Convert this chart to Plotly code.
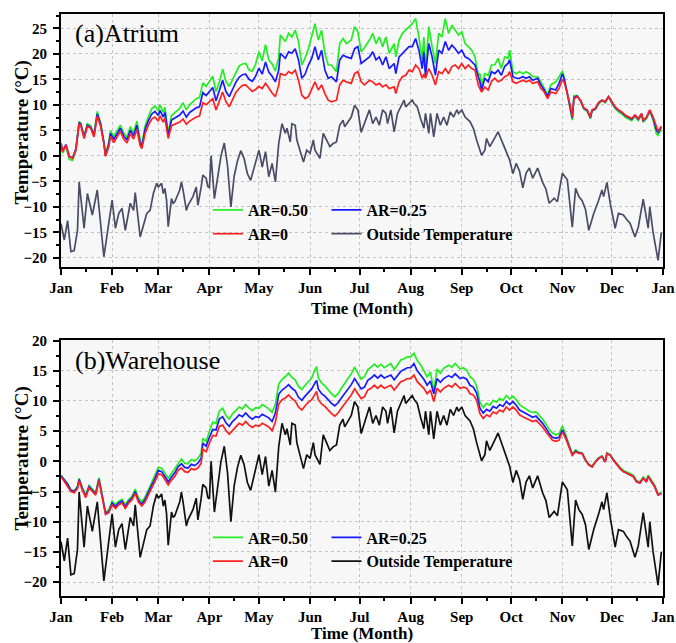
import pandas as pd
import plotly.graph_objects as go

# ---------------------------------------------------------------------------
# Data: day of year (0 = 1 Jan) and daily temperature in °C
# ---------------------------------------------------------------------------
MONTH_LABELS = ["Jan", "Feb", "Mar", "Apr", "May", "Jun", "Jul",
                "Aug", "Sep", "Oct", "Nov", "Dec", "Jan"]

# Outside air temperature (same weather file for both buildings)
OUT_DAY = [0, 2, 4, 6, 8, 10, 11, 14, 16, 19, 22, 24, 26, 31, 33, 35, 37, 39,
           42, 44, 45, 48, 49, 52, 54, 56, 58, 59, 61, 62, 63, 64, 65, 67, 68,
           69, 72, 73, 74, 76, 77, 79, 80, 82, 83, 85, 86, 88, 89, 90, 91, 93,
           95, 97, 99, 101, 103, 105, 107, 109, 111, 113, 115, 117, 120, 122,
           124, 126, 128, 130, 132, 134, 136, 137, 139, 140, 142, 143, 145,
           147, 149, 151, 153, 154, 157, 159, 161, 163, 165, 167, 169, 171,
           172, 174, 176, 178, 180, 182, 185, 187, 189, 191, 193, 195, 197,
           198, 200, 202, 204, 206, 208, 209, 211, 213, 214, 216, 218, 220,
           221, 223, 224, 226, 228, 230, 232, 234, 236, 238, 240, 241, 243,
           245, 248, 250, 252, 254, 255, 257, 258, 260, 262, 264, 265, 267,
           269, 272, 274, 276, 278, 280, 282, 284, 286, 289, 292, 294, 296,
           299, 301, 304, 307, 310, 312, 314, 316, 318, 320, 323, 326, 328,
           329, 331, 333, 336, 338, 341, 343, 345, 348, 350, 353, 356, 357,
           359, 362, 364]
OUT_T = [-13.3, -16.5, -12.7, -18.8, -18.6, -14.6, -5.1, -14.2, -7.4, -11.6,
         -6.7, -13.6, -19.8, -8.7, -14.2, -11.3, -10.3, -14.6, -9.3, -10.7,
         -7.2, -15.9, -14.6, -11.3, -10.7, -7.4, -5.4, -6.1, -5.4, -7.4, -6.4,
         -8.7, -13.9, -8.4, -9.3, -9.0, -6.7, -5.1, -6.7, -10.7, -9.7, -8.7,
         -8.0, -6.1, -9.7, -6.1, -3.8, -4.4, -6.0, -6.2, 0.0, -8.4, -4.0, 0.0,
         2.5, -2.0, -10.0, -4.0, -1.0, 1.0, -0.5, -3.5, -4.8, -2.2, 1.1, -2.2,
         0.8, -4.1, -1.5, -5.1, 2.4, 6.3, 4.4, 5.4, 2.7, 6.3, 6.0, 3.1, 1.1,
         -1.2, 1.1, 0.5, 3.1, 1.1, -0.5, 4.4, 3.1, 1.8, 2.4, 2.7, 6.0, 7.0,
         5.7, 6.7, 7.6, 9.9, 9.0, 4.6, 7.3, 9.0, 6.3, 7.6, 6.0, 9.0, 8.3,
         6.3, 9.0, 4.7, 8.3, 9.6, 10.9, 9.6, 10.3, 10.9, 10.3, 9.6, 7.3, 5.4,
         8.3, 4.4, 8.3, 3.7, 8.3, 6.0, 7.6, 6.0, 8.6, 7.6, 9.0, 8.3, 9.0,
         7.6, 6.7, 5.4, 3.1, 0.8, 0.1, 1.1, 3.4, 1.8, 3.1, 4.1, 4.7, 3.1,
         1.8, -0.8, -3.5, -1.5, -3.0, -6.3, -3.4, -2.4, -4.4, -2.4, -5.2,
         -6.5, -9.3, -8.3, -9.0, -3.4, -4.7, -14.0, -6.4, -8.0, -8.8, -10.5,
         -14.6, -11.3, -8.7, -6.7, -8.0, -5.2, -9.3, -14.2, -11.3, -11.6,
         -12.5, -13.2, -15.9, -14.0, -8.5, -14.2, -10.0, -15.0, -20.5, -15.0]

# (a) Atrium: indoor temperature for three aspect ratios
ATR_DAY = [0, 1, 3, 5, 7, 9, 11, 12, 14, 16, 18, 20, 22, 24, 26, 27, 29, 30,
           32, 34, 36, 38, 40, 42, 44, 46, 48, 49, 51, 53, 55, 57, 59, 60, 62,
           63, 65, 67, 69, 72, 74, 76, 78, 80, 82, 84, 86, 88, 90, 92, 94, 96,
           98, 100, 102, 104, 106, 108, 110, 112, 114, 116, 118, 120, 122,
           124, 126, 128, 130, 132, 133, 136, 138, 140, 142, 144, 146, 148,
           150, 152, 154, 156, 158, 160, 162, 164, 167, 169, 171, 173, 176,
           178, 180, 182, 184, 187, 189, 191, 193, 195, 197, 199, 202, 203,
           205, 207, 209, 211, 213, 215, 217, 219, 220, 221, 223, 225, 227,
           229, 231, 233, 235, 237, 239, 241, 243, 245, 247, 249, 251, 253,
           254, 255, 257, 259, 261, 263, 265, 267, 269, 271, 272, 274, 276,
           278, 280, 282, 284, 286, 289, 291, 293, 295, 297, 300, 302, 304,
           305, 307, 309, 310, 311, 313, 315, 317, 319, 321, 322, 324, 326,
           328, 330, 332, 334, 336, 338, 340, 342, 344, 346, 348, 350, 352,
           353, 355, 357, 359, 361, 362, 364]
ATR_AR0 = [2.4, 0.8, 2.1, -0.2, -0.5, 1.1, 6.3, 6.0, 3.4, 5.8, 5.4, 3.7, 7.8,
           5.8, 2.4, -0.1, 1.8, 3.8, 2.6, 3.6, 4.8, 3.3, 2.5, 4.3, 3.3, 5.2,
           2.0, 1.4, 4.4, 6.0, 7.2, 7.6, 6.8, 7.8, 6.6, 7.4, 3.4, 5.9, 6.2,
           6.6, 7.2, 6.2, 6.8, 7.2, 7.6, 7.8, 10.4, 10.0, 10.6, 11.2, 9.0,
           10.8, 12.5, 10.6, 9.6, 11.0, 12.4, 13.2, 13.8, 13.9, 13.2, 12.6,
           13.0, 13.6, 13.2, 14.2, 13.3, 12.3, 11.6, 13.8, 16.1, 15.8, 16.5,
           16.1, 16.8, 14.8, 11.9, 11.2, 11.6, 12.9, 14.5, 12.9, 13.9, 12.2,
           10.9, 10.6, 10.9, 13.9, 14.8, 14.5, 14.2, 16.1, 16.5, 14.5, 13.9,
           14.8, 14.5, 13.9, 14.2, 13.5, 13.9, 13.2, 13.5, 12.2, 14.5, 15.5,
           15.8, 16.8, 16.5, 17.8, 17.1, 15.2, 16.0, 15.2, 17.1, 15.8, 13.9,
           16.5, 16.1, 17.1, 16.1, 17.5, 17.8, 17.1, 18.1, 17.1, 17.8, 17.1,
           16.8, 13.9, 13.0, 12.5, 13.5, 12.9, 14.6, 15.2, 14.5, 14.8, 15.5,
           15.8, 16.5, 14.5, 14.2, 14.5, 14.8, 14.5, 14.8, 14.2, 14.5, 13.2,
           12.5, 11.2, 12.5, 12.2, 13.2, 15.0, 14.5, 12.2, 9.6, 7.6, 11.2,
           11.6, 10.9, 9.4, 9.0, 7.6, 9.0, 9.3, 10.5, 10.9, 10.6, 11.6, 10.6,
           9.6, 9.0, 8.6, 8.0, 7.6, 7.3, 8.0, 7.3, 8.3, 7.0, 7.6, 9.0, 7.6,
           5.4, 4.8, 5.8]
ATR_AR025 = [2.4, 1.0, 2.2, -0.1, -0.4, 1.3, 6.5, 6.2, 3.7, 6.0, 5.6, 4.0,
             8.2, 6.2, 2.6, 0.0, 2.3, 4.4, 3.2, 4.2, 5.4, 3.9, 3.1, 5.0, 3.9,
             6.0, 2.5, 1.8, 5.2, 6.9, 8.2, 8.7, 7.9, 8.9, 7.6, 8.5, 4.0, 7.0,
             7.4, 8.0, 8.8, 7.6, 8.5, 9.0, 9.4, 9.6, 12.4, 11.8, 12.6, 13.4,
             10.8, 12.6, 14.8, 12.6, 11.6, 13.0, 14.4, 15.4, 15.9, 16.0, 15.0,
             14.6, 15.6, 17.2, 16.0, 18.4, 16.4, 15.6, 14.5, 16.8, 20.1, 19.1,
             20.4, 20.1, 21.0, 18.8, 15.2, 16.0, 17.8, 19.1, 21.4, 18.8, 20.7,
             16.8, 15.2, 15.5, 14.5, 18.8, 19.7, 19.4, 19.1, 21.0, 21.4, 18.1,
             18.6, 19.4, 20.4, 18.8, 19.4, 17.8, 19.4, 17.1, 18.1, 16.1, 19.4,
             20.1, 20.7, 21.4, 21.4, 23.0, 20.7, 17.1, 20.4, 15.6, 22.0, 19.4,
             15.8, 20.7, 20.1, 22.4, 20.7, 21.7, 21.0, 20.1, 20.7, 19.4, 19.1,
             18.4, 17.8, 15.5, 14.5, 12.9, 15.2, 14.5, 16.5, 16.1, 16.8, 15.8,
             17.5, 18.1, 18.8, 15.5, 15.2, 15.2, 15.5, 15.2, 15.5, 14.8, 15.2,
             13.9, 12.9, 11.6, 13.2, 12.9, 14.2, 16.1, 15.2, 12.2, 9.4, 7.4,
             11.4, 11.7, 10.8, 9.3, 8.9, 7.5, 8.9, 9.2, 10.4, 10.9, 10.6,
             11.6, 10.5, 9.5, 8.9, 8.5, 7.9, 7.5, 7.2, 7.9, 7.2, 8.2, 6.9,
             7.5, 8.9, 7.4, 5.1, 4.6, 5.6]
ATR_AR050 = [2.2, 0.5, 1.9, -0.7, -0.9, 1.0, 6.7, 6.4, 3.9, 6.3, 5.9, 4.3,
             8.7, 6.5, 2.8, 0.1, 2.8, 4.9, 3.8, 4.9, 6.0, 4.5, 3.6, 5.7, 4.5,
             6.8, 3.0, 2.2, 5.9, 7.7, 9.2, 9.8, 8.8, 10.0, 8.5, 9.5, 4.5, 7.9,
             8.5, 9.3, 10.4, 9.0, 10.0, 10.6, 11.2, 11.4, 14.3, 13.6, 14.6,
             15.6, 12.6, 14.4, 17.0, 14.6, 13.6, 15.0, 16.4, 17.6, 18.0, 18.1,
             16.8, 16.6, 18.0, 20.4, 18.6, 21.8, 18.8, 18.0, 16.6, 19.4, 23.7,
             22.4, 24.0, 23.3, 24.6, 22.4, 17.8, 19.2, 21.0, 23.3, 25.9, 22.7,
             24.6, 20.1, 17.8, 17.8, 16.5, 22.0, 23.0, 22.0, 22.7, 25.3, 24.3,
             20.4, 21.2, 22.7, 24.0, 22.0, 23.3, 21.4, 23.3, 20.1, 22.0, 19.4,
             22.7, 24.0, 24.6, 25.3, 25.9, 26.9, 23.3, 18.8, 23.3, 16.5, 25.3,
             21.4, 18.1, 24.0, 23.3, 26.9, 24.0, 25.6, 24.6, 23.7, 24.3, 22.0,
             21.4, 20.7, 19.4, 15.8, 16.1, 13.9, 16.1, 15.8, 17.8, 17.8, 19.1,
             17.1, 19.4, 19.1, 20.7, 16.5, 16.1, 16.5, 16.1, 16.5, 16.1, 15.5,
             15.5, 14.5, 13.2, 11.9, 13.9, 14.5, 15.5, 16.6, 15.5, 12.2, 9.0,
             7.0, 11.8, 11.8, 10.7, 9.2, 8.7, 7.3, 8.8, 9.1, 10.2, 10.8, 10.4,
             11.6, 10.3, 9.3, 8.6, 8.2, 7.6, 7.2, 6.9, 7.7, 6.9, 8.0, 6.6, 7.3,
             8.7, 7.0, 4.3, 4.0, 5.2]

# (b) Warehouse: indoor temperature for three aspect ratios
WH_DAY = [0, 2, 4, 6, 8, 10, 11, 13, 15, 17, 19, 21, 23, 25, 27, 29, 31, 33,
          35, 37, 39, 41, 43, 45, 47, 49, 51, 53, 55, 57, 59, 61, 63, 65, 67,
          69, 71, 73, 75, 77, 79, 81, 83, 85, 86, 88, 90, 92, 94, 96, 98, 100,
          102, 104, 106, 108, 110, 112, 114, 116, 118, 120, 122, 124, 126,
          128, 130, 132, 134, 136, 138, 140, 142, 144, 146, 148, 150, 152,
          154, 155, 156, 158, 160, 162, 164, 166, 168, 170, 172, 174, 176,
          178, 180, 182, 184, 186, 188, 190, 192, 194, 196, 198, 200, 202,
          204, 206, 208, 210, 212, 214, 216, 218, 220, 222, 224, 226, 228,
          230, 232, 235, 237, 239, 242, 244, 246, 248, 250, 252, 254, 256,
          258, 260, 262, 264, 266, 268, 270, 272, 274, 276, 278, 280, 282,
          284, 286, 288, 290, 292, 294, 296, 298, 300, 302, 304, 306, 308,
          310, 312, 314, 316, 318, 320, 322, 324, 326, 328, 330, 331, 333,
          335, 337, 339, 341, 343, 345, 347, 349, 351, 353, 355, 356, 358,
          360, 362, 364]
WH_AR0 = [-2.5, -3.3, -4.0, -5.0, -5.2, -4.5, -3.2, -4.8, -6.0, -4.4, -5.0,
          -5.6, -3.2, -6.0, -8.8, -8.5, -7.2, -7.8, -7.2, -6.9, -7.8, -6.9,
          -6.4, -5.3, -6.8, -7.4, -6.7, -5.5, -4.5, -3.3, -2.1, -2.2, -3.0,
          -3.9, -3.1, -2.5, -1.5, -1.1, -1.7, -1.8, -1.2, -1.4, -1.1, -0.3,
          2.0, 1.6, 3.0, 4.3, 4.2, 5.8, 6.0, 5.1, 4.5, 5.2, 5.7, 6.3, 6.0,
          6.6, 6.0, 5.6, 6.0, 5.8, 6.3, 6.0, 5.7, 5.1, 6.5, 9.5, 10.2, 10.5,
          11.0, 10.4, 10.0, 9.0, 8.5, 9.2, 9.8, 10.2, 11.2, 11.6, 10.2, 9.5,
          9.1, 8.5, 7.9, 7.5, 8.0, 8.8, 9.5, 10.2, 11.0, 12.0, 11.2, 10.4,
          10.7, 11.8, 12.1, 12.6, 12.1, 12.6, 12.1, 12.3, 12.6, 11.8, 12.6,
          13.2, 13.4, 13.7, 13.7, 14.3, 13.2, 12.6, 12.1, 11.2, 11.8, 9.9,
          12.1, 11.5, 12.1, 12.6, 12.3, 12.9, 12.1, 12.3, 12.1, 11.2, 11.0,
          10.1, 7.9, 7.1, 7.7, 7.4, 8.2, 7.9, 8.5, 8.2, 9.0, 8.5, 9.0, 8.5,
          7.7, 7.4, 7.1, 6.8, 6.6, 6.8, 6.3, 5.7, 4.9, 4.1, 3.5, 3.3, 3.5,
          4.9, 3.8, 2.4, 1.0, 1.6, 1.3, 1.3, 0.2, -0.6, -0.9, -0.1, 0.5, 0.8,
          -0.1, 1.3, 1.0, 0.2, -0.6, -1.2, -1.7, -2.0, -2.3, -2.5, -3.4,
          -3.6, -2.8, -3.4, -2.5, -3.4, -4.2, -5.6, -5.3]
WH_AR025 = [-2.4, -3.1, -3.8, -4.8, -5.0, -4.3, -3.0, -4.6, -5.8, -4.2, -4.8,
            -5.4, -3.0, -5.8, -8.6, -8.3, -6.9, -7.5, -6.9, -6.6, -7.5, -6.6,
            -6.1, -5.0, -6.5, -7.1, -6.3, -5.1, -4.0, -2.8, -1.5, -1.7, -2.5,
            -3.4, -2.6, -1.9, -0.9, -0.4, -1.0, -1.1, -0.5, -0.7, -0.3, 0.5,
            3.0, 2.5, 4.0, 5.3, 5.2, 7.0, 7.4, 6.4, 5.8, 6.6, 7.1, 7.7, 7.4,
            8.0, 7.4, 7.0, 7.4, 7.3, 7.8, 7.5, 7.2, 6.6, 8.0, 11.1, 11.8,
            12.2, 12.7, 12.1, 11.7, 10.6, 10.1, 10.8, 11.5, 12.0, 13.0, 13.4,
            12.0, 11.2, 10.8, 10.2, 9.6, 9.2, 9.7, 10.5, 11.2, 11.9, 12.7,
            13.7, 12.9, 12.0, 12.3, 13.4, 13.8, 14.3, 13.8, 14.3, 13.8, 14.0,
            14.3, 13.5, 14.3, 14.9, 15.2, 15.5, 15.5, 16.2, 15.0, 14.3, 13.6,
            12.6, 13.3, 11.2, 13.7, 13.1, 13.7, 14.2, 13.9, 14.5, 13.7, 13.9,
            13.6, 12.6, 12.3, 11.3, 8.8, 8.0, 8.6, 8.3, 9.1, 8.8, 9.4, 9.1,
            9.9, 9.4, 9.9, 9.3, 8.5, 8.2, 7.9, 7.5, 7.3, 7.5, 6.9, 6.3, 5.5,
            4.6, 4.0, 3.8, 4.0, 5.2, 4.0, 2.5, 1.1, 1.7, 1.4, 1.3, 0.2, -0.6,
            -0.9, -0.1, 0.5, 0.8, -0.1, 1.3, 1.0, 0.2, -0.6, -1.2, -1.7, -2.0,
            -2.3, -2.5, -3.4, -3.6, -2.8, -3.4, -2.5, -3.4, -4.2, -5.6, -5.3]
WH_AR050 = [-2.3, -3.0, -3.7, -4.7, -4.9, -4.1, -2.8, -4.4, -5.6, -4.0, -4.6,
            -5.2, -2.7, -5.5, -8.4, -8.0, -6.6, -7.2, -6.6, -6.3, -7.2, -6.3,
            -5.8, -4.6, -6.1, -6.7, -5.9, -4.7, -3.5, -2.2, -1.0, -1.1, -1.9,
            -2.8, -2.0, -1.2, -0.2, 0.4, -0.3, -0.4, 0.3, 0.1, 0.5, 1.4, 3.8,
            3.3, 5.0, 6.5, 6.3, 8.3, 8.8, 7.6, 7.0, 7.9, 8.4, 9.0, 8.7, 9.4,
            8.8, 8.4, 8.9, 8.8, 9.4, 9.0, 8.7, 8.1, 9.5, 12.8, 13.6, 14.0,
            14.6, 13.9, 13.5, 12.4, 11.9, 12.6, 13.3, 13.8, 15.2, 15.7, 13.8,
            13.0, 12.5, 11.8, 11.2, 10.7, 11.2, 12.1, 12.9, 13.6, 14.5, 15.6,
            14.7, 13.6, 14.0, 15.2, 15.6, 16.1, 15.6, 16.1, 15.5, 15.8, 16.2,
            15.2, 16.1, 16.8, 17.0, 17.3, 17.3, 17.9, 16.7, 16.0, 15.0, 14.0,
            14.8, 11.6, 15.3, 14.6, 15.4, 15.9, 15.6, 16.2, 15.3, 15.5, 15.1,
            14.0, 13.6, 12.5, 9.8, 8.9, 9.6, 9.3, 10.1, 9.8, 10.4, 10.1, 10.9,
            10.3, 10.8, 10.2, 9.4, 9.0, 8.7, 8.3, 8.1, 8.2, 7.6, 7.0, 6.2,
            5.3, 4.7, 4.4, 4.6, 5.9, 4.4, 2.7, 1.2, 1.9, 1.5, 1.4, 0.3, -0.5,
            -0.8, 0.0, 0.6, 0.9, 0.0, 1.4, 1.1, 0.3, -0.4, -1.0, -1.5, -1.8,
            -2.1, -2.3, -3.2, -3.4, -2.6, -3.2, -2.3, -3.2, -4.0, -5.4, -5.1]

# ---------------------------------------------------------------------------
START = pd.Timestamp("2013-01-01")


def to_dates(days):
    return [START + pd.Timedelta(days=d) for d in days]


MONTH_STARTS = list(pd.date_range("2013-01-01", "2014-01-01", freq="MS"))

SERIF = "Liberation Serif"
GREEN, BLUE, RED = "#22ee22", "#1a1aff", "#ff2020"

fig = go.Figure()

# each panel: left legend column holds AR=0.50 / AR=0, right column AR=0.25 / outside
panels = [
    ("x", "y", ATR_DAY, ATR_AR050, ATR_AR025, ATR_AR0, "#4a4d66", ("legend", "legend2")),
    ("x2", "y2", WH_DAY, WH_AR050, WH_AR025, WH_AR0, "#111111", ("legend3", "legend4")),
]
for xa, ya, days, g, b, r, out_col, (leg_left, leg_right) in panels:
    d = to_dates(days)
    fig.add_trace(go.Scatter(x=d, y=g, mode="lines", name="AR=0.50",
                             line=dict(color=GREEN, width=1.7),
                             xaxis=xa, yaxis=ya, legend=leg_left))
    fig.add_trace(go.Scatter(x=d, y=b, mode="lines", name="AR=0.25",
                             line=dict(color=BLUE, width=1.7),
                             xaxis=xa, yaxis=ya, legend=leg_right))
    fig.add_trace(go.Scatter(x=d, y=r, mode="lines", name="AR=0",
                             line=dict(color=RED, width=1.7),
                             xaxis=xa, yaxis=ya, legend=leg_left))
    fig.add_trace(go.Scatter(x=to_dates(OUT_DAY), y=OUT_T, mode="lines",
                             name="Outside Temperature",
                             line=dict(color=out_col, width=1.7),
                             xaxis=xa, yaxis=ya, legend=leg_right))

tick_font = dict(family=SERIF, size=15, color="black", weight="bold")
title_font = dict(family=SERIF, size=17, color="black", weight="bold")


def x_axis(anchor):
    return dict(
        anchor=anchor, domain=[0, 1], type="date", automargin=False,
        range=[START, START + pd.Timedelta(days=365)],
        tickmode="array", tickvals=MONTH_STARTS, ticktext=MONTH_LABELS,
        ticks="outside", ticklen=6, tickwidth=1.5, tickcolor="black",
        minor=dict(tickmode="array",
                   tickvals=[m + pd.Timedelta(days=15) for m in MONTH_STARTS[:-1]],
                   ticks="outside", ticklen=3, tickwidth=1.5, tickcolor="black",
                   showgrid=False),
        showgrid=True, gridcolor="#c4c4c4", griddash="dot", gridwidth=1,
        showline=True, linecolor="black", linewidth=2, mirror=True,
        tickfont=tick_font, zeroline=False,
        title=dict(text="Time (Month)", font=title_font, standoff=7),
    )


def y_axis(anchor, dom, rng, vals):
    return dict(
        anchor=anchor, domain=dom, range=rng, automargin=False,
        tickmode="array", tickvals=vals,
        ticks="outside", ticklen=6, tickwidth=1.5, tickcolor="black",
        minor=dict(dtick=2.5, ticks="outside", ticklen=3, tickwidth=1.5,
                   tickcolor="black", showgrid=False),
        showgrid=True, gridcolor="#c4c4c4", griddash="dot", gridwidth=1,
        showline=True, linecolor="black", linewidth=2, mirror=True,
        tickfont=tick_font, zeroline=False, ticklabelstandoff=3,
    )


legend_common = dict(orientation="v", bgcolor="rgba(0,0,0,0)",
                     font=dict(family=SERIF, size=16, color="black", weight="bold"),
                     xanchor="left", yanchor="middle", itemclick=False,
                     tracegroupgap=0)

# y-axis titles sit close to the tick labels, so they are placed as rotated text
y_title = dict(text="Temperature (°C)", xref="paper", x=-0.0648,
               xanchor="center", yanchor="middle", textangle=-90, showarrow=False,
               font=dict(family=SERIF, size=19, color="black", weight="bold"))

fig.update_layout(
    width=676, height=643,
    margin=dict(l=61, r=13, t=14, b=47),
    paper_bgcolor="white", plot_bgcolor="#f7f7f7",
    xaxis=x_axis("y"),
    yaxis=y_axis("x", [0.5653, 1.0], [-21.8, 27.8], [-20, -15, -10, -5, 0, 5, 10, 15, 20, 25]),
    xaxis2=x_axis("y2"),
    yaxis2=y_axis("x2", [0.0, 0.4399], [-22.3, 20.1], [-20, -15, -10, -5, 0, 5, 10, 15, 20]),
    legend=dict(legend_common, x=0.244, y=0.6426),
    legend2=dict(legend_common, x=0.441, y=0.6426),
    legend3=dict(legend_common, x=0.244, y=0.0799),
    legend4=dict(legend_common, x=0.441, y=0.0799),
    annotations=[
        dict(text="(a)Atrium", xref="x domain", yref="y domain", x=0.02, y=0.99,
             xanchor="left", yanchor="top", showarrow=False,
             font=dict(family=SERIF, size=26, color="black")),
        dict(text="(b)Warehouse", xref="x2 domain", yref="y2 domain", x=0.02, y=0.985,
             xanchor="left", yanchor="top", showarrow=False,
             font=dict(family=SERIF, size=26, color="black")),
        dict(y_title, yref="y domain", y=0.532),
        dict(y_title, yref="y2 domain", y=0.537),
    ],
)

fig.write_html("out.html")
